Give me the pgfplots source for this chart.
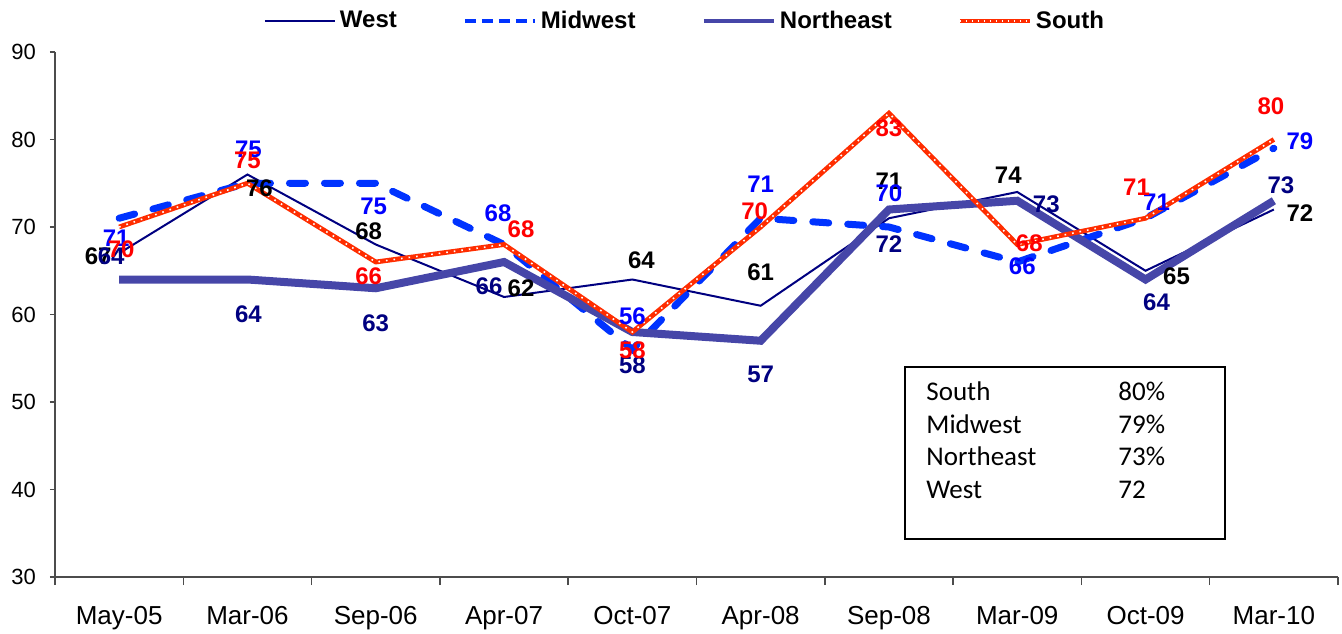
\documentclass[border=0pt]{standalone}
\usepackage{pgfplots}
\usepackage{pgfplotstable}
\pgfplotsset{compat=1.18}
\usepackage{fontspec}
\setmainfont{Liberation Sans}
\newfontfamily\calibri{Carlito}
\definecolor{westc}{RGB}{0,0,128}
\definecolor{midc}{RGB}{0,51,255}
\definecolor{nec}{RGB}{70,70,168}
\definecolor{southc}{RGB}{255,45,0}
\definecolor{labblue}{RGB}{0,0,255}
\definecolor{labred}{RGB}{255,0,0}

\pgfplotstableread{
x y dx dy
0 67 -10.5 -1.5
1 76 6 -6.75
2 68 -3.5 6.5
3 62 8.5 4.5
4 64 4.5 9.5
5 61 0 17
6 71 0 18.5
7 74 -4.5 8.5
8 65 15.5 -2.5
9 72 13 -2
}\west
\pgfplotstableread{
x y dx dy
0 71 -1.5 -10
1 75 0.5 17
2 75 -1 -11.5
3 68 -3 15.5
4 56 0 16.5
5 71 0 17
6 70 0 16.75
7 66 2.5 -2
8 71 5.5 8
9 79 13 3.5
}\midwest
\pgfplotstableread{
x y dx dy
0 64 -4 11.75
1 64 0.5 -17.5
2 63 0 -17.5
3 66 -7.5 -12
4 58 0 -16.5
5 57 0 -17
6 72 0 -17.25
7 73 14.5 -2
8 64 5.5 -11.5
9 73 3.5 7.5
}\northeast
\pgfplotstableread{
x y dx dy
0 70 1 -11
1 75 0 11.5
2 66 -3.5 -7
3 68 8.5 7.5
4 58 0 -9
5 70 -3 8
6 83 0 -7.5
7 68 6 0.5
8 71 -4.5 15.5
9 80 -1.5 16.5
}\south

\pgfplotsset{
  labstyle/.style={
    draw=none, mark=none, forget plot,
    nodes near coords, point meta=y,
    every node near coord/.append style={anchor=center, inner sep=0pt,
      xshift=\labdx, yshift=\labdy,
      font=\bfseries\fontsize{12}{14}\selectfont, text=#1},
  },
}

\begin{document}
\begin{tikzpicture}
\useasboundingbox (-27.5pt,-28pt) rectangle (643.5pt,288.5pt);
\begin{axis}[
  at={(0,0)}, anchor=south west,
  scale only axis, width=641.5pt, height=262.5pt,
  xmin=-0.5, xmax=9.5, ymin=30, ymax=90,
  axis lines=left,
  axis line style={-, black!70, line width=0.75pt},
  ytick={30,40,...,90},
  xtick={0,...,9},
  xticklabels={May-05,Mar-06,Sep-06,Apr-07,Oct-07,Apr-08,Sep-08,Mar-09,Oct-09,Mar-10},
  minor xtick={-0.5,0.5,...,9.5},
  major x tick style={draw=none},
  minor tick length=4pt, major tick length=2.5pt,
  tick align=outside,
  every tick/.style={black!70, line width=0.75pt},
  /pgf/number format/assume math mode=true,
  yticklabel style={font=\fontsize{11}{13}\selectfont, xshift=-3.5pt},
  xticklabel style={font=\fontsize{13}{15}\selectfont, yshift=-8.5pt},
  clip=false,
  legend columns=4,
  legend style={at={(0.4918,1.059)}, anchor=center, draw=none, fill=none,
    font=\bfseries\fontsize{12}{14}\selectfont,
    /tikz/every even column/.append style={column sep=31pt}},
  legend image code/.code={\draw[#1] (0pt,0pt) -- (35pt,0pt);},
]
% legend entries
\addlegendimage{westc, line width=1pt}
\addlegendentry{West}
\addlegendimage{midc, line width=2pt, dash pattern=on 5.5pt off 3pt}
\addlegendentry{Midwest}
\addlegendimage{nec, line width=2.2pt}
\addlegendentry{Northeast}
\addlegendimage{southc, line width=2pt, postaction={draw=white, line width=0.6pt, dash pattern=on 0.6pt off 2.4pt}}
\addlegendentry{South}

% lines
\addplot[westc, line width=1pt, forget plot] table[x=x,y=y] {\west};
\addplot[midc, line width=3.5pt, line cap=round, dash pattern=on 8pt off 9.5pt, forget plot] table[x=x,y=y] {\midwest};
\addplot[nec, line width=4pt, forget plot] table[x=x,y=y] {\northeast};
\addplot[southc, line width=2.4pt, forget plot,
  postaction={draw=white, line width=0.8pt, dash pattern=on 0.8pt off 3pt}] table[x=x,y=y] {\south};

% data labels
\addplot[labstyle=black,
  visualization depends on={\thisrow{dx}\as\labdx},
  visualization depends on={\thisrow{dy}\as\labdy}] table[x=x,y=y] {\west};
\addplot[labstyle=labblue,
  visualization depends on={\thisrow{dx}\as\labdx},
  visualization depends on={\thisrow{dy}\as\labdy}] table[x=x,y=y] {\midwest};
\addplot[labstyle=westc,
  visualization depends on={\thisrow{dx}\as\labdx},
  visualization depends on={\thisrow{dy}\as\labdy}] table[x=x,y=y] {\northeast};
\addplot[labstyle=labred,
  visualization depends on={\thisrow{dx}\as\labdx},
  visualization depends on={\thisrow{dy}\as\labdy}] table[x=x,y=y] {\south};

% text box
\draw[black, line width=1pt] (axis cs:6.125,54.0) rectangle (axis cs:8.619,34.34);
\begin{scope}[every node/.style={anchor=mid west, inner sep=0pt, font=\calibri\fontsize{13.5}{16}\selectfont}]
\node at (axis cs:6.289,50.8) {South};
\node at (axis cs:7.785,50.8) {80\%};
\node at (axis cs:6.289,47.03) {Midwest};
\node at (axis cs:7.785,47.03) {79\%};
\node at (axis cs:6.289,43.37) {Northeast};
\node at (axis cs:7.785,43.37) {73\%};
\node at (axis cs:6.289,39.6) {West};
\node at (axis cs:7.785,39.6) {72};
\end{scope}
\end{axis}
\end{tikzpicture}
\end{document}
